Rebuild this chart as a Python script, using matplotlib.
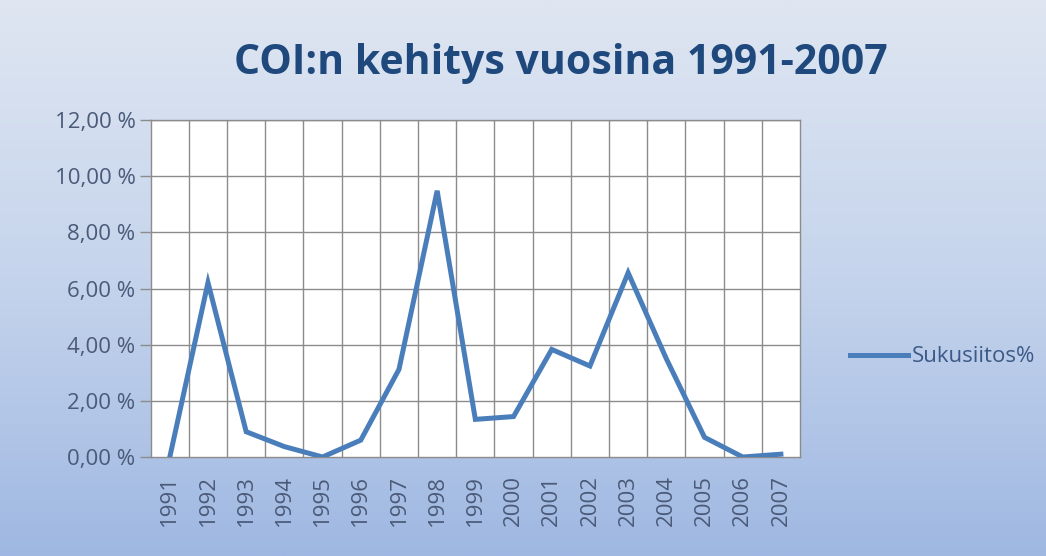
import matplotlib
matplotlib.use("Agg")
import matplotlib.pyplot as plt
import numpy as np
from matplotlib.colors import LinearSegmentedColormap

years = ["1991", "1992", "1993", "1994", "1995", "1996", "1997", "1998", "1999",
         "2000", "2001", "2002", "2003", "2004", "2005", "2006", "2007"]
coi = [0.00, 6.21, 0.90, 0.37, 0.00, 0.60, 3.12, 9.48, 1.34,
       1.44, 3.83, 3.24, 6.56, 3.50, 0.70, 0.00, 0.10]
yticks = [0, 2, 4, 6, 8, 10, 12]
ytick_labels = ["0,00 %", "2,00 %", "4,00 %", "6,00 %", "8,00 %", "10,00 %", "12,00 %"]
title = "COI:n kehitys vuosina 1991-2007"
series_name = "Sukusiitos%"

fig = plt.figure(figsize=(10.46, 5.56), dpi=100)

# gradient background
bg = fig.add_axes([0, 0, 1, 1], zorder=0)
cmap = LinearSegmentedColormap.from_list("bg", ["#dfe6f2", "#c5d4ec", "#9fb8e2"])
grad = np.linspace(0, 1, 256).reshape(-1, 1)
bg.imshow(grad, aspect="auto", cmap=cmap, extent=[0, 1, 0, 1], origin="upper")
bg.set_axis_off()

ax = fig.add_axes([150.7 / 1046, 1 - 457 / 556, (800 - 150.7) / 1046, (457 - 120) / 556], zorder=1)
ax.set_facecolor("white")
x = np.arange(len(years))
line, = ax.plot(x, coi, color="#4a7ebb", lw=3.6, solid_joinstyle="miter", label=series_name, zorder=3)

ax.set_xlim(-0.5, len(years) - 0.5)
ax.set_ylim(0, 12)
ax.set_yticks(yticks)
ax.set_yticklabels(ytick_labels)
ax.set_xticks(x)
ax.set_xticklabels(years, rotation=90)

ax.grid(False)
for v in np.arange(0.5, len(years) - 0.5, 1):
    ax.axvline(v, color="#8c8c8c", lw=1.0, zorder=1)
for h in yticks[1:]:
    ax.axhline(h, color="#8c8c8c", lw=1.0, zorder=1)

for s in ["top", "right", "left", "bottom"]:
    ax.spines[s].set_color("#8c8c8c")
    ax.spines[s].set_linewidth(1.0)

ax.tick_params(axis="y", length=8, width=1, color="#8c8c8c", labelsize=16,
               labelcolor="#4a5a78", pad=3)
ax.tick_params(axis="x", which="major", length=0, labelsize=16, labelcolor="#4a5a78", pad=13)
for lab in ax.get_xticklabels() + ax.get_yticklabels():
    lab.set_fontfamily("Open Sans")

fig.text(561 / 1046, 1 - 64 / 556, title, ha="center", va="center", fontsize=29.5,
         fontweight="bold", color="#1f497d", family="Open Sans")

leg = fig.legend(handles=[line], labels=[series_name], loc="center left",
                 bbox_to_anchor=(830 / 1046, 1 - 357 / 556), frameon=False,
                 handlelength=2.6, handletextpad=0.2, prop={"family": "Open Sans", "size": 16})
for t in leg.get_texts():
    t.set_color("#3c5a86")

fig.savefig("out.png", dpi=100)
